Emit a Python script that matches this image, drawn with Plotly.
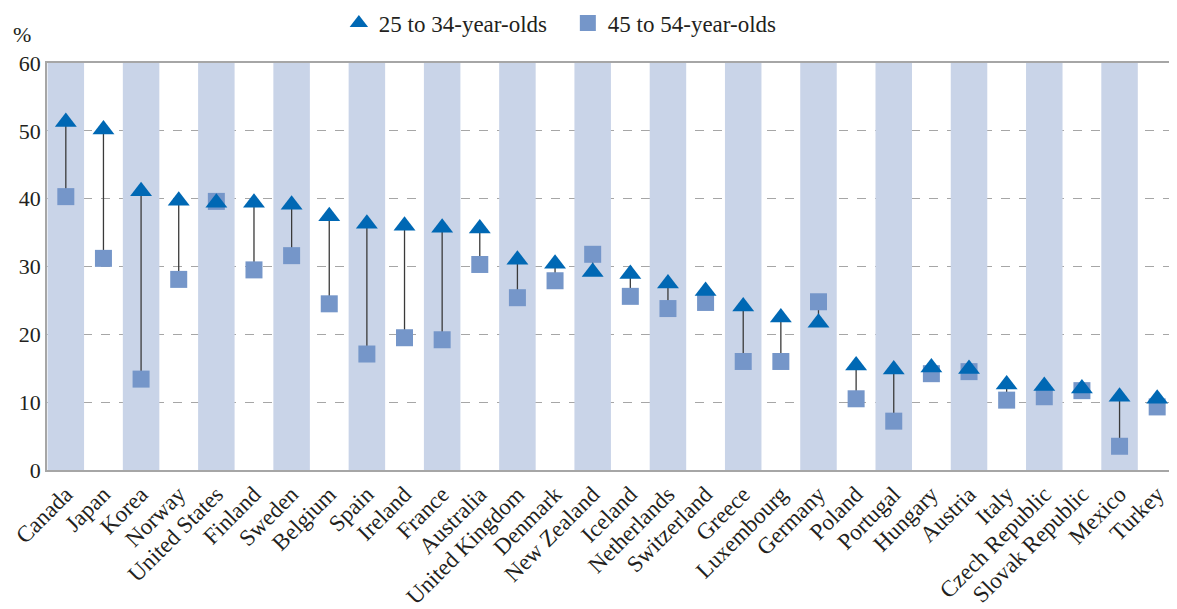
import plotly.graph_objects as go

countries = ["Canada", "Japan", "Korea", "Norway", "United States", "Finland", "Sweden",
             "Belgium", "Spain", "Ireland", "France", "Australia", "United Kingdom",
             "Denmark", "New Zealand", "Iceland", "Netherlands", "Switzerland", "Greece",
             "Luxembourg", "Germany", "Poland", "Portugal", "Hungary", "Austria", "Italy",
             "Czech Republic", "Slovak Republic", "Mexico", "Turkey"]

age_25_34 = [51.3, 50.2, 41.1, 39.7, 39.4, 39.4, 39.1, 37.4, 36.3, 36.0, 35.7, 35.6, 31.0,
             30.4, 29.2, 28.9, 27.5, 26.4, 24.1, 22.5, 21.7, 15.4, 14.8, 15.1, 14.9, 12.6,
             12.4, 12.0, 10.8, 10.5]

age_45_54 = [40.3, 31.2, 13.4, 28.1, 39.6, 29.5, 31.6, 24.5, 17.1, 19.5, 19.2, 30.3, 25.4,
             27.9, 31.8, 25.6, 23.8, 24.7, 16.0, 16.0, 24.8, 10.5, 7.2, 14.2, 14.5, 10.3,
             10.8, 11.7, 3.5, 9.3]

y_max = 60
y_ticks = [0, 10, 20, 30, 40, 50, 60]

FONT = "Liberation Serif"
TXT = "#231F20"

fig = go.Figure()

# alternating shaded bands
band_x = [c for i, c in enumerate(countries) if i % 2 == 0]
fig.add_trace(go.Bar(x=band_x, y=[y_max] * len(band_x), width=0.97,
                     marker=dict(color="#C9D4E8", line=dict(width=0)),
                     showlegend=False, hoverinfo="skip"))

# connector lines
lx, ly = [], []
for c, a, b in zip(countries, age_25_34, age_45_54):
    lx += [c, c, None]
    ly += [a, b, None]
fig.add_trace(go.Scatter(x=lx, y=ly, mode="lines",
                         line=dict(color="#3A3A3A", width=1.3),
                         showlegend=False, hoverinfo="skip"))

fig.add_trace(go.Scatter(x=countries, y=age_45_54, mode="markers",
                         name="45 to 54-year-olds",
                         marker=dict(symbol="square", size=17, color="#7596C9",
                                     line=dict(width=0))))
fig.add_trace(go.Scatter(x=countries, y=age_25_34, mode="markers",
                         name="25 to 34-year-olds",
                         marker=dict(symbol="triangle-up", size=19, color="#0068B4",
                                     line=dict(width=0))))

fig.update_layout(
    width=1168, height=601, autosize=False,
    margin=dict(l=39, r=0, t=55, b=139, autoexpand=False),
    paper_bgcolor="white", plot_bgcolor="white",
    font=dict(family=FONT, size=22, color=TXT),
    barmode="overlay",
    legend=dict(orientation="h", x=0.2585, xanchor="left", y=1.098, yanchor="middle",
                traceorder="reversed", font=dict(size=23, family=FONT, color=TXT),
                entrywidth=184, bgcolor="rgba(0,0,0,0)"),
    annotations=[dict(text="%", xref="paper", yref="paper", x=-0.0222, y=1.069,
                      xanchor="center", yanchor="middle", showarrow=False,
                      font=dict(size=22, family=FONT, color=TXT))],
)

fig.update_xaxes(type="category", categoryorder="array", categoryarray=countries,
                 range=[-0.5, len(countries) - 0.5],
                 tickangle=-45, tickfont=dict(size=23, family=FONT, color=TXT),
                 showgrid=False, showline=True, linecolor="#A6A6A6", linewidth=1.5,
                 mirror=True, ticks="")
fig.update_yaxes(range=[0, y_max], tickvals=y_ticks,
                 tickfont=dict(size=22, family=FONT, color=TXT),
                 showgrid=True, gridcolor="#A6A6A6", griddash="dash", gridwidth=1,
                 showline=True, linecolor="#A6A6A6", linewidth=1.5, mirror=True,
                 ticks="", zeroline=False)

fig.write_html("out.html")
